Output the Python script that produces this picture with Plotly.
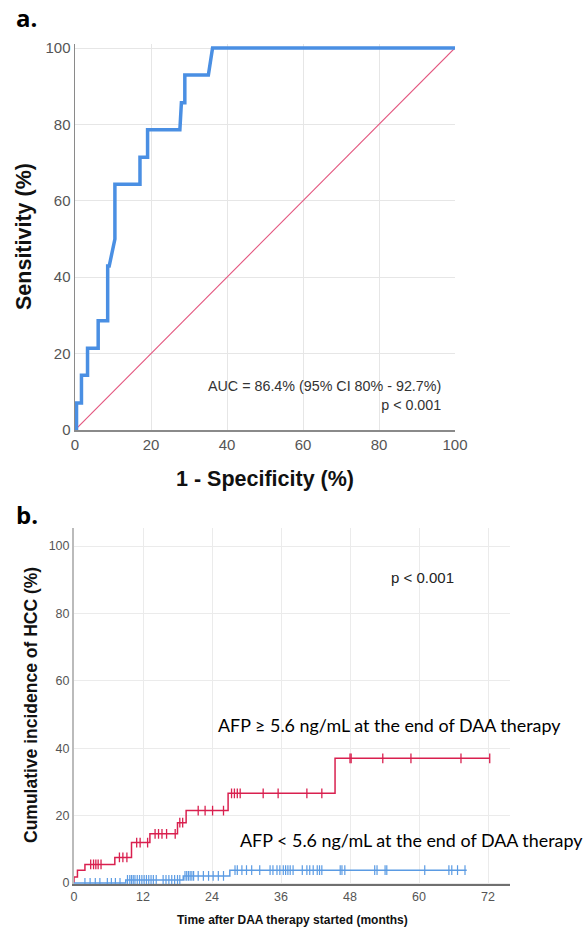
import plotly.graph_objects as go

W, H = 587, 929

# ---------------- Panel a: ROC curve data ----------------
roc_fpr = [0, 0.4, 0.4, 1.7, 1.7, 3.3, 3.3, 6.1, 6.1, 8.6, 8.6, 9.0, 10.5, 10.5, 17.1, 17.1,
           19.1, 19.1, 27.6, 28.0, 28.9, 28.9, 35.1, 36.2, 100]
roc_tpr = [0, 0, 7.1, 7.1, 14.3, 14.3, 21.4, 21.4, 28.6, 28.6, 42.9, 42.9, 50.0, 64.3, 64.3, 71.4,
           71.4, 78.6, 78.6, 85.7, 85.7, 92.9, 92.9, 100, 100]
ref_x = [0, 100]
ref_y = [0, 100]
roc_ticks = [0, 20, 40, 60, 80, 100]

# ---------------- Panel b: cumulative incidence data ----------------
red_t = [0, 0, 0.6, 1.9, 7.1, 10.0, 13.2, 18.0, 19.5, 26.8, 45.4, 72.3]
red_v = [0, 1.8, 3.8, 5.5, 7.6, 12.0, 14.6, 17.9, 21.5, 26.6, 37.0, 37.0]
red_cens = [2.9, 3.4, 3.8, 4.2, 4.7, 7.9, 8.5, 9.2, 10.9, 11.5, 12.8, 14.1, 14.7, 15.3, 16.1,
            17.6, 18.4, 18.9, 21.6, 22.8, 24.1, 26.0, 27.4, 27.9, 28.4, 28.9, 32.9, 35.5,
            40.5, 43.1, 48.0, 48.2, 53.7, 58.6, 67.3, 72.3]

blue_t = [0, 9.0, 19.0, 27.1, 68.3]
blue_v = [0, 0.9, 2.1, 3.8, 3.8]
blue_cens = [1.9, 2.8, 3.7, 4.5, 5.8, 6.5, 7.2, 8.0, 9.3, 9.7, 10.0, 10.3, 10.6, 11.0, 11.4,
             11.8, 12.2, 12.6, 13.0, 13.4, 13.8, 14.3, 15.5, 16.0, 16.5, 17.0, 17.5, 18.0,
             18.4, 19.3, 19.6, 19.9, 20.2, 20.5, 20.8, 21.6, 22.5, 23.4, 24.2, 25.1, 26.0,
             28.0, 28.4, 29.2, 30.0, 30.9, 32.3, 34.1, 34.6, 35.3, 35.8, 36.4, 36.8, 37.2,
             37.6, 38.1, 39.7, 40.5, 41.0, 41.6, 42.3, 42.7, 43.1, 46.3, 46.6, 47.1, 52.3,
             52.7, 54.1, 54.4, 61.0, 65.2, 65.7, 66.7, 68.0]
km_xticks = [0, 12, 24, 36, 48, 60, 72]
km_yticks = [0, 20, 40, 60, 80, 100]


def step_val(ts, vs, t):
    v = vs[0]
    for ti, vi in zip(ts, vs):
        if ti <= t:
            v = vi
    return v


def px(x):
    return x / W


def py(y):
    return 1 - y / H


RED = "#D9204F"
BLUE_KM = "#5B9BE3"
BLUE_ROC = "#4A8FE3"

fig = go.Figure()

# panel a
fig.add_trace(go.Scatter(x=ref_x, y=ref_y, mode="lines", line=dict(color="#E3557E", width=1.1),
                         xaxis="x", yaxis="y"))
fig.add_trace(go.Scatter(x=roc_fpr, y=roc_tpr, mode="lines", line=dict(color=BLUE_ROC, width=3.5),
                         xaxis="x", yaxis="y"))

# panel b
fig.add_trace(go.Scatter(x=red_t, y=red_v, mode="lines", line=dict(color=RED, width=1.5, shape="hv"),
                         xaxis="x2", yaxis="y2"))
fig.add_trace(go.Scatter(x=red_cens, y=[step_val(red_t, red_v, t) for t in red_cens], mode="markers",
                         marker=dict(symbol="line-ns", size=7, line=dict(color=RED, width=1.3)),
                         xaxis="x2", yaxis="y2"))
fig.add_trace(go.Scatter(x=blue_t, y=blue_v, mode="lines", line=dict(color=BLUE_KM, width=1.5, shape="hv"),
                         xaxis="x2", yaxis="y2"))
fig.add_trace(go.Scatter(x=blue_cens, y=[step_val(blue_t, blue_v, t) for t in blue_cens], mode="markers",
                         marker=dict(symbol="line-ns", size=7, line=dict(color=BLUE_KM, width=1.2)),
                         xaxis="x2", yaxis="y2"))

# --- geometry (pixels) ---
a_x0, a_x1 = 75, 455
a_ytop_val = 101.0
a_y0px = 430
a_ppu = (430 - 48) / 100
a_ytop_px = 48 - (a_ytop_val - 100) * a_ppu

b_ppx = (488 - 74) / 72
b_xmax = (510 - 74) / b_ppx
b_ppu = (883 - 546) / 100
b_ylo = -0.4
b_yhi = 100 + (546 - 528) / b_ppu
b_ybot_px = 883 - b_ylo * b_ppu
b_ytop_px = 528

FONT = "Liberation Sans, Arial, sans-serif"
TICKC = "#555555"

common = dict(zeroline=False, ticks="", automargin=False, fixedrange=True, showgrid=True, gridwidth=1,
              showline=True)

fig.update_layout(
    width=W, height=H, margin=dict(l=0, r=0, t=0, b=0, autoexpand=False),
    paper_bgcolor="white", plot_bgcolor="white", showlegend=False, hovermode=False,
    font=dict(family=FONT),
    xaxis=dict(domain=[px(a_x0), px(a_x1)], range=[0, 100], tickvals=roc_ticks,
               gridcolor="#E6E6E6", linecolor="#8A8A8A", linewidth=1.5,
               tickfont=dict(size=15, color=TICKC), anchor="y", **common),
    yaxis=dict(domain=[py(a_y0px), py(a_ytop_px)], range=[0, a_ytop_val], tickvals=roc_ticks,
               gridcolor="#E6E6E6", linecolor="#8A8A8A", linewidth=1.5,
               tickfont=dict(size=15, color=TICKC), anchor="x", **common),
    xaxis2=dict(domain=[px(74), px(510)], range=[0, b_xmax], tickvals=km_xticks,
                gridcolor="#EBEBEB", linecolor="#707070", linewidth=1.5,
                tickfont=dict(size=12.5, color=TICKC), anchor="y2", **common),
    yaxis2=dict(domain=[py(b_ybot_px), py(b_ytop_px)], range=[b_ylo, b_yhi], tickvals=km_yticks,
                gridcolor="#EBEBEB", linecolor="#BBBBBB", linewidth=2,
                tickfont=dict(size=12.5, color=TICKC), anchor="x2", **common),
)

ann = []


def add_text(text, x, y, size, color="#000", bold=False, xanchor="center", yanchor="middle",
             angle=0, family=FONT, align="center"):
    if bold:
        text = "<b>" + text + "</b>"
    ann.append(dict(text=text, x=px(x), y=py(y), xref="paper", yref="paper", showarrow=False,
                    xanchor=xanchor, yanchor=yanchor, textangle=angle, align=align,
                    font=dict(size=size, color=color, family=family)))


add_text("a.", 14, 18, 24, bold=True, xanchor="left", family="Open Sans, sans-serif")
add_text("b.", 14, 514, 24, bold=True, xanchor="left", family="Open Sans, sans-serif")

add_text("Sensitivity (%)", 24, 237, 21.5, color="#111", bold=True, angle=-90)
add_text("1 - Specificity (%)", 265, 479, 21.5, color="#111", bold=True)
add_text("AUC = 86.4% (95% CI 80% - 92.7%)<br>p < 0.001", 443, 396, 14.3, color="#333",
         xanchor="right", align="right")

add_text("Cumulative incidence of HCC (%)", 31, 705, 17.5, color="#111", bold=True, angle=-90)
add_text("Time after DAA therapy started (months)", 292, 920, 12, color="#111", bold=True)
add_text("p < 0.001", 422, 577, 15, color="#222")
add_text("AFP ≥ 5.6 ng/mL at the end of DAA therapy", 216, 725, 17.9, color="#000",
         xanchor="left", family="Lato, sans-serif")
add_text("AFP < 5.6 ng/mL at the end of DAA therapy", 238, 840, 17.9, color="#000",
         xanchor="left", family="Lato, sans-serif")

fig.update_layout(annotations=ann)
fig.write_html("out.html", config={"displayModeBar": False, "staticPlot": True},
               post_script="document.body.style.margin='0px';document.body.style.padding='0px';"
                           "document.documentElement.style.overflow='hidden';")
